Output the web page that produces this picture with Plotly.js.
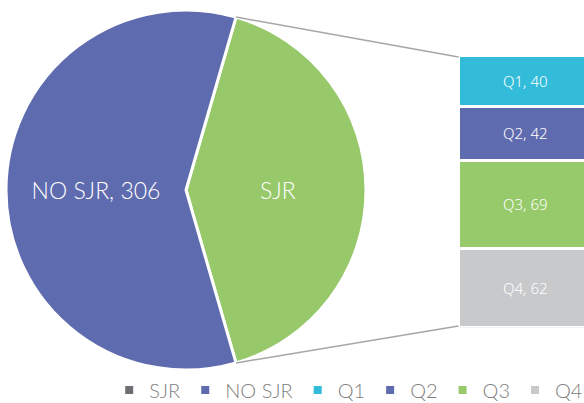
<!DOCTYPE html>
<html>
<head>
<meta charset="utf-8">
<script src="https://cdn.plot.ly/plotly-3.0.1.min.js"></script>
<style>html,body{margin:0;padding:0;background:#fff;}#chart{width:584px;height:403px;}</style>
</head>
<body>
<div id="chart"></div>
<script>
// ---- data ----
const pieLabels = ["SJR", "NO SJR"];
const pieValues = [213, 306];
const pieColors = ["#97C96B", "#5F6BAF"];
const barLabels = ["Q1", "Q2", "Q3", "Q4"];
const barValues = [40, 42, 69, 62];
const barColors = ["#33BCDA", "#5F6BAF", "#97CA6A", "#C8C9CB"];
const legendLabels = ["SJR", "NO SJR", "Q1", "Q2", "Q3", "Q4"];
const legendColors = ["#6D6E71", "#5F6BAF", "#33BCDA", "#5F6BAF", "#97CA6A", "#C8C9CB"];

// ---- layout geometry ----
const W = 584, H = 403;
const pieCx = 186, pieCy = 190, pieR = 180;
const barLeft = 458.5;
const barTop = 55.5, barBottom = 327.5;

const total = pieValues.reduce((a, b) => a + b, 0);
const sjrFrac = pieValues[0] / total;
const halfAng = sjrFrac * Math.PI; // half of the SJR slice angle
const rotationDeg = 90 - sjrFrac * 180;

const traces = [];
traces.push({
  type: "pie",
  labels: pieLabels,
  values: pieValues,
  sort: false,
  direction: "clockwise",
  rotation: rotationDeg,
  marker: { colors: pieColors, line: { color: "#ffffff", width: 3 } },
  texttemplate: ["%{label}", "%{label}, %{value}"],
  textposition: "inside",
  insidetextorientation: "horizontal",
  insidetextfont: { color: "#ffffff", size: 23, family: "Lato, sans-serif", weight: 300 },
  domain: { x: [(pieCx - pieR) / W, (pieCx + pieR) / W], y: [(H - pieCy - pieR) / H, (H - pieCy + pieR) / H] },
  showlegend: false,
  hoverinfo: "label+value"
});

const barSum = barValues.reduce((a, b) => a + b, 0);
barLabels.forEach((lab, i) => {
  traces.push({
    type: "bar",
    x: [0],
    y: [barValues[i]],
    width: 1,
    name: lab,
    marker: { color: barColors[i], line: { color: "#ffffff", width: 3 } },
    text: [lab + ", " + barValues[i]],
    textposition: "inside",
    insidetextanchor: "middle",
    textfont: { color: "#ffffff", size: 15, family: "Noto Sans, sans-serif", weight: 300 },
    showlegend: false,
    hoverinfo: "name+y"
  });
});

legendLabels.forEach((lab, i) => {
  traces.push({
    type: "scatter",
    x: [null], y: [null],
    mode: "markers",
    name: lab,
    marker: { symbol: "square", size: 8, color: legendColors[i] },
    showlegend: true
  });
});

// connector lines from pie edge to bar corners
const topPt = [pieCx + pieR * Math.cos(halfAng), pieCy - pieR * Math.sin(halfAng)];
const botPt = [pieCx + pieR * Math.cos(halfAng), pieCy + pieR * Math.sin(halfAng)];
const toPaper = (p) => [p[0] / W, 1 - p[1] / H];
const shapes = [
  [topPt, [barLeft, barTop + 1.5]],
  [botPt, [barLeft, barBottom - 1.5]]
].map(([a, b]) => {
  const pa = toPaper(a), pb = toPaper(b);
  return { type: "line", xref: "paper", yref: "paper", x0: pa[0], y0: pa[1], x1: pb[0], y1: pb[1],
           line: { color: "#A6A6A6", width: 1.5 } };
});

const layout = {
  width: W, height: H,
  margin: { l: 0, r: 0, t: 0, b: 0, autoexpand: false },
  paper_bgcolor: "#ffffff",
  plot_bgcolor: "rgba(0,0,0,0)",
  barmode: "stack",
  bargap: 0,
  xaxis: { domain: [barLeft / W, 1], range: [-0.5, 0.44], visible: false, fixedrange: true },
  yaxis: { domain: [(H - barBottom) / H, (H - barTop) / H], range: [barSum, 0], visible: false, fixedrange: true },
  shapes: shapes,
  showlegend: true,
  legend: {
    orientation: "h", traceorder: "normal", x: 0.187, xanchor: "left", y: -0.016, yanchor: "bottom",
    font: { size: 20, color: "#808080", family: "Lato, sans-serif", weight: 300 },
    itemwidth: 30, tracegroupgap: 0, bgcolor: "rgba(0,0,0,0)"
  }
};

Plotly.newPlot("chart", traces, layout, { displayModeBar: false, staticPlot: true });
</script>
</body>
</html>
